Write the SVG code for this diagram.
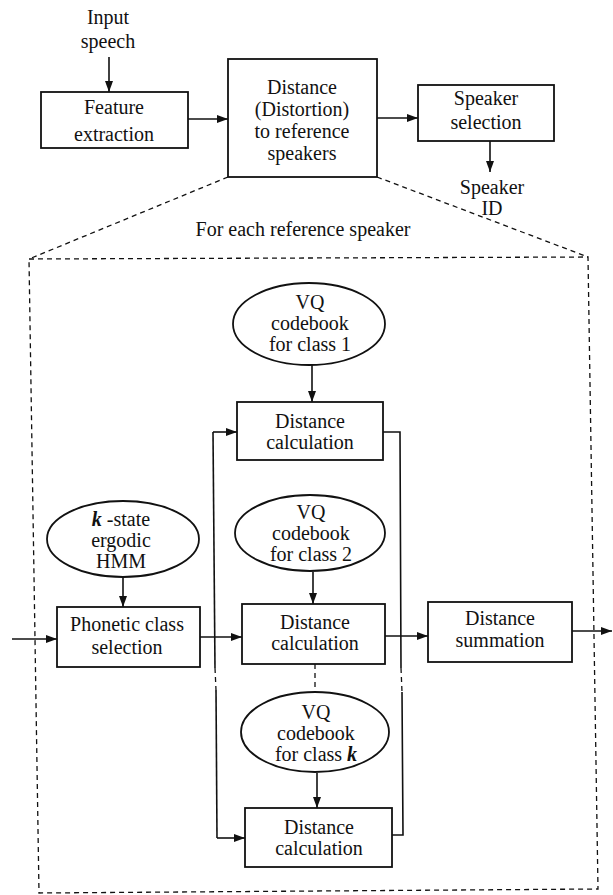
<svg xmlns="http://www.w3.org/2000/svg" width="613" height="895" viewBox="0 0 613 895">
<defs>
<marker id="ah" markerUnits="userSpaceOnUse" markerWidth="11" markerHeight="8" refX="11" refY="4" orient="auto">
<path d="M0,0 L11,4 L0,8 z" fill="#111"/>
</marker>
<style>
.t{font-family:"Liberation Serif","Times New Roman",serif;font-size:20px;fill:#111;text-anchor:middle}
.b{fill:#fff;stroke:#111;stroke-width:1.8}
.c{fill:none;stroke:#111;stroke-width:1.6}
.a{fill:none;stroke:#111;stroke-width:1.6;marker-end:url(#ah)}
.d{fill:none;stroke:#111;stroke-width:1.3;stroke-dasharray:5 4}
</style>
</defs>
<rect width="613" height="895" fill="#fff"/>

<g id="input-label">
<text class="t" x="108" y="24">Input</text>
<text class="t" x="108" y="48">speech</text>
</g>

<g id="connectors">
<line class="a" x1="109" y1="57" x2="109" y2="92"/>
<line class="a" x1="188" y1="119" x2="228" y2="119"/>
<line class="a" x1="377" y1="118" x2="418" y2="118"/>
<line class="a" x1="490" y1="141" x2="490" y2="172"/>
<line class="d" x1="228" y1="177" x2="29" y2="259"/>
<line class="d" x1="377" y1="177" x2="588" y2="257"/>
<path class="d" d="M29,259 L588,257 L598,889 L39,893 Z"/>
<line class="a" x1="312" y1="365" x2="312" y2="402"/>
<line class="a" x1="123" y1="577" x2="123" y2="607"/>
<line class="a" x1="313" y1="572" x2="313" y2="604"/>
<line class="a" x1="317" y1="773" x2="317" y2="808"/>
<line class="a" x1="12" y1="639" x2="57" y2="639"/>
<line class="a" x1="200" y1="637" x2="242" y2="637"/>
<line class="a" x1="385" y1="636" x2="428" y2="636"/>
<line class="a" x1="572" y1="631" x2="612" y2="631"/>
<polyline class="c" points="215,668 213,432"/>
<line class="a" x1="213" y1="432" x2="237" y2="432"/>
<line class="d" x1="215" y1="668" x2="216" y2="690"/>
<polyline class="c" points="216,690 217,838"/>
<line class="a" x1="217" y1="838" x2="245" y2="838"/>
<polyline class="c" points="383,432 400,432 401,668"/>
<line class="d" x1="401" y1="668" x2="402" y2="692"/>
<polyline class="c" points="402,692 403,835 392,835"/>
<line class="d" x1="315" y1="664" x2="315" y2="692"/>
</g>

<g id="feature-extraction">
<rect class="b" x="41" y="92" width="147" height="56"/>
<text class="t" x="114" y="114">Feature</text>
<text class="t" x="114" y="141">extraction</text>
</g>

<g id="distance-ref">
<rect class="b" x="228" y="59" width="149" height="118"/>
<text class="t" x="302" y="94">Distance</text>
<text class="t" x="302" y="116">(Distortion)</text>
<text class="t" x="302" y="138">to reference</text>
<text class="t" x="302" y="160">speakers</text>
</g>

<g id="speaker-selection">
<rect class="b" x="418" y="85" width="136" height="56"/>
<text class="t" x="486" y="105">Speaker</text>
<text class="t" x="486" y="129">selection</text>
</g>

<g id="speaker-id">
<text class="t" x="492" y="194">Speaker</text>
<text class="t" x="492" y="215">ID</text>
</g>

<g id="for-each">
<text class="t" x="303" y="236">For each reference speaker</text>
</g>

<g id="vq1">
<ellipse class="b" cx="309" cy="324" rx="76" ry="41"/>
<text class="t" x="310" y="309">VQ</text>
<text class="t" x="310" y="330">codebook</text>
<text class="t" x="310" y="351">for class 1</text>
</g>

<g id="dist-calc-1">
<rect class="b" x="237" y="402" width="146" height="58"/>
<text class="t" x="310" y="428">Distance</text>
<text class="t" x="310" y="449">calculation</text>
</g>

<g id="hmm">
<ellipse class="b" cx="123" cy="539" rx="76" ry="38"/>
<text class="t" x="121" y="526"><tspan font-style="italic" font-weight="bold">k</tspan> -state</text>
<text class="t" x="121" y="547">ergodic</text>
<text class="t" x="121" y="568">HMM</text>
</g>

<g id="vq2">
<ellipse class="b" cx="310" cy="533" rx="75" ry="38"/>
<text class="t" x="311" y="519">VQ</text>
<text class="t" x="311" y="540">codebook</text>
<text class="t" x="311" y="561">for class 2</text>
</g>

<g id="phonetic">
<rect class="b" x="57" y="607" width="143" height="60"/>
<text class="t" x="127" y="631">Phonetic class</text>
<text class="t" x="127" y="654">selection</text>
</g>

<g id="dist-calc-2">
<rect class="b" x="242" y="604" width="143" height="60"/>
<text class="t" x="315" y="629">Distance</text>
<text class="t" x="315" y="650">calculation</text>
</g>

<g id="dist-sum">
<rect class="b" x="428" y="602" width="144" height="60"/>
<text class="t" x="500" y="625">Distance</text>
<text class="t" x="500" y="647">summation</text>
</g>

<g id="vqk">
<ellipse class="b" cx="315" cy="732" rx="74" ry="40"/>
<text class="t" x="316" y="719">VQ</text>
<text class="t" x="316" y="740">codebook</text>
<text class="t" x="316" y="761">for class <tspan font-style="italic" font-weight="bold">k</tspan></text>
</g>

<g id="dist-calc-k">
<rect class="b" x="245" y="808" width="147" height="59"/>
<text class="t" x="319" y="834">Distance</text>
<text class="t" x="319" y="855">calculation</text>
</g>
</svg>
